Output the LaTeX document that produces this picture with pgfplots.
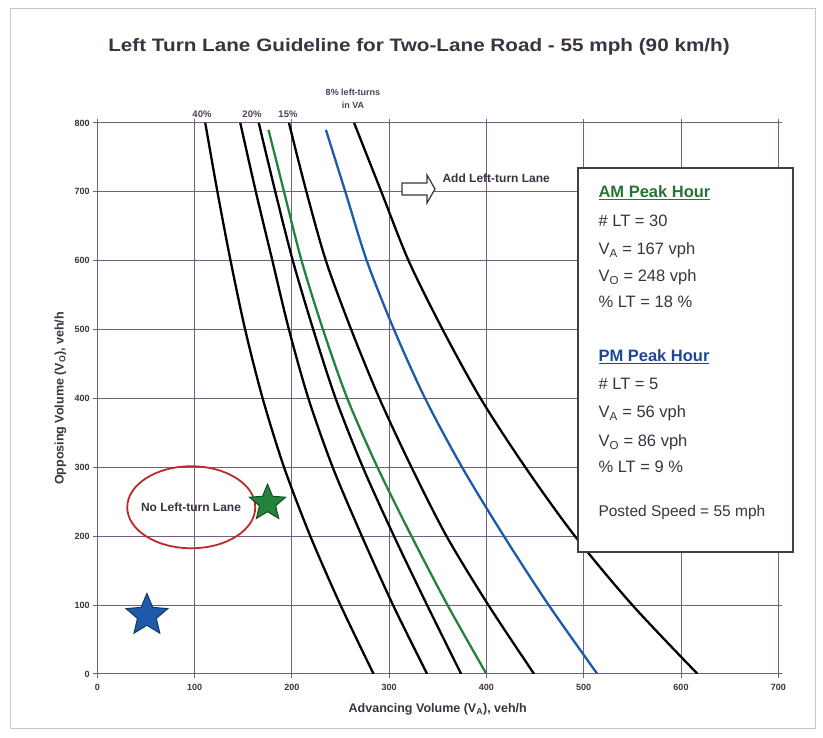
\documentclass[border=0pt]{standalone}
\usepackage{pgfplots}
\pgfplotsset{compat=1.18}
\usepackage{fontspec}
\setmainfont{Liberation Sans}
\definecolor{gridc}{RGB}{115,95,130}
\definecolor{txt}{RGB}{60,50,65}
\definecolor{cgreen}{RGB}{35,130,60}
\definecolor{cblue}{RGB}{30,90,170}
\definecolor{cred}{RGB}{190,40,40}
\definecolor{hgreen}{RGB}{40,115,55}
\definecolor{hblue}{RGB}{30,70,150}
\pgfdeclareplotmark{fstar}{%
  \pgfpathmoveto{\pgfpointpolar{90}{\pgfplotmarksize}}%
  \pgfpathlineto{\pgfpointpolar{126}{0.45\pgfplotmarksize}}%
  \pgfpathlineto{\pgfpointpolar{162}{\pgfplotmarksize}}%
  \pgfpathlineto{\pgfpointpolar{198}{0.45\pgfplotmarksize}}%
  \pgfpathlineto{\pgfpointpolar{234}{\pgfplotmarksize}}%
  \pgfpathlineto{\pgfpointpolar{270}{0.45\pgfplotmarksize}}%
  \pgfpathlineto{\pgfpointpolar{306}{\pgfplotmarksize}}%
  \pgfpathlineto{\pgfpointpolar{342}{0.45\pgfplotmarksize}}%
  \pgfpathlineto{\pgfpointpolar{18}{\pgfplotmarksize}}%
  \pgfpathlineto{\pgfpointpolar{54}{0.45\pgfplotmarksize}}%
  \pgfpathclose
  \pgfusepathqfillstroke
}
\begin{document}
\begin{tikzpicture}[x=1pt,y=1pt]
\useasboundingbox (0,0) rectangle (823,738);
\draw[gray!45, line width=0.8pt] (10,10) rectangle (815,730);
\begin{axis}[
  at={(100,93)}, anchor=south west,
  scale only axis, width=681pt, height=551pt,
  xmin=0, xmax=700, ymin=0, ymax=800,
  xtick={0,100,...,700}, ytick={0,100,...,800},
  grid=major, grid style={gridc, line width=0.9pt},
  axis line style={gridc, line width=1.1pt},
  tick style={gridc, line width=0.9pt}, tick align=outside, major tick length=4pt,
  tick label style={font=\fontsize{9}{10}\selectfont\bfseries, text=txt},
  xticklabel style={yshift=-3pt},
  /pgf/number format/assume math mode=true,
  /pgf/number format/1000 sep={},
  xlabel={Advancing Volume (V\textsubscript{A}), veh/h},
  ylabel={Opposing Volume (V\textsubscript{O}), veh/h},
  label style={font=\fontsize{12.5}{14}\selectfont\bfseries, text=txt},
  xlabel style={at={(axis description cs:0.5,-0.0635)}, anchor=center},
  ylabel style={at={(axis description cs:-0.0543,0.5)}, anchor=center},
  clip=true,
]
\addplot[black, line width=2.3pt, smooth] coordinates {(111,800)(123.5,700)(137,600)(152,500)(170,400)(192,300)(219,200)(250,100)(284,0)};
\addplot[black, line width=2.3pt, smooth] coordinates {(147,800)(163,700)(180,600)(197,500)(217,400)(242,300)(272,200)(304,100)(339,0)};
\addplot[black, line width=2.3pt, smooth] coordinates {(166,800)(183,700)(201,600)(222,500)(245,400)(273,300)(305,200)(339,100)(374,0)};
\addplot[cgreen, line width=2.3pt, smooth] coordinates {(176,790)(192,700)(210,600)(232,500)(257,400)(288,300)(323,200)(360,100)(400,0)};
\addplot[black, line width=2.3pt, smooth] coordinates {(197,800)(215,700)(235,600)(261,500)(290,400)(323,300)(359,200)(402,100)(449,0)};
\addplot[cblue, line width=2.3pt, smooth] coordinates {(235,790)(255,700)(277,600)(305,500)(337,400)(375,300)(418,200)(464,100)(514,0)};
\addplot[black, line width=2.3pt, smooth] coordinates {(264,800)(292,700)(320,600)(355,500)(394,400)(440,300)(491,200)(550,100)(617,0)};
\draw[cred, line width=1.8pt] (axis cs:96.6,242) ellipse [x radius=64pt, y radius=41pt];
\addplot[only marks, mark=fstar, mark size=19pt, mark options={fill=cgreen, draw=cgreen!60!black, line width=1pt}] coordinates {(175,248)};
\addplot[only marks, mark=fstar, mark size=22pt, mark options={fill=cblue, draw=cblue!60!black, line width=1pt}] coordinates {(51,85)};
\end{axis}
% annotations
\node[font=\fontsize{18}{20}\selectfont\bfseries, text=txt, anchor=base] at (419,686) {\scalebox{1.15}[1]{Left Turn Lane Guideline for Two-Lane Road - 55 mph (90 km/h)}};
\begin{scope}[font=\fontsize{9.5}{11}\selectfont\bfseries, text={rgb,255:red,80;green,60;blue,90}]
\node at (202,624) {40\%};
\node at (252,624) {20\%};
\node at (288,624) {15\%};
\node[font=\fontsize{9}{10}\selectfont\bfseries] at (353,646) {8\% left-turns};
\node[font=\fontsize{9}{10}\selectfont\bfseries] at (353,633) {in VA};
\end{scope}
\node[font=\fontsize{12}{14}\selectfont\bfseries, text=txt] at (191,231) {No Left-turn Lane};
\node[font=\fontsize{12}{14}\selectfont\bfseries, text=txt, anchor=west] at (439,560) {Add Left-turn Lane};
\draw[fill=white, draw=txt, line width=1.2pt] (402,555)--(427,555)--(427,563)--(435,549)--(427,535)--(427,543)--(402,543)--cycle;
% info box
\draw[fill=white, draw={rgb,255:red,70;green,60;blue,70}, line width=1.5pt] (578,570) rectangle (793,186);
\begin{scope}[font=\fontsize{16.5}{18}\selectfont, text=txt]
\node[anchor=base west, text=hgreen, font=\fontsize{16.5}{18}\selectfont\bfseries] at (595,540) {\underline{AM Peak Hour}};
\node[anchor=base west] at (595,511) {\# LT = 30};
\node[anchor=base west] at (595,483) {V\textsubscript{A} = 167 vph};
\node[anchor=base west] at (595,456) {V\textsubscript{O} = 248 vph};
\node[anchor=base west] at (595,430) {\% LT = 18 \%};
\node[anchor=base west, text=hblue, font=\fontsize{16.5}{18}\selectfont\bfseries] at (595,376) {\underline{PM Peak Hour}};
\node[anchor=base west] at (595,348) {\# LT = 5};
\node[anchor=base west] at (595,320) {V\textsubscript{A} = 56 vph};
\node[anchor=base west] at (595,291) {V\textsubscript{O} = 86 vph};
\node[anchor=base west] at (595,265) {\% LT = 9 \%};
\node[anchor=base west, font=\fontsize{15.5}{17}\selectfont] at (595,221) {Posted Speed = 55 mph};
\end{scope}
\end{tikzpicture}
\end{document}
